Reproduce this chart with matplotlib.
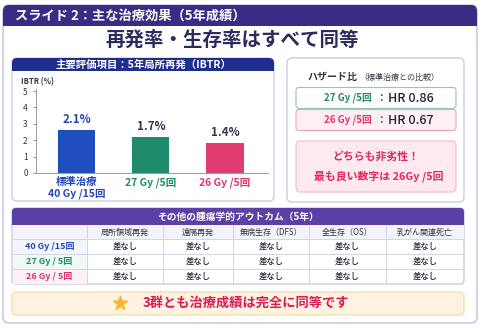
import matplotlib
matplotlib.use('Agg')
import matplotlib.pyplot as plt
from matplotlib.patches import FancyBboxPatch, Rectangle

plt.rcParams['font.family'] = ['Noto Sans CJK JP', 'DejaVu Sans']

# Chart data
arms = ['標準治療\n40 Gy /15回', '27 Gy /5回', '26 Gy /5回']
ibtr_bars = [2.6, 2.2, 1.85]          # bar heights as drawn
ibtr_labels = ['2.1%', '1.7%', '1.4%']
y_ticks = [0, 1, 2, 3, 4, 5]
hr_arms = ['27 Gy /5回', '26 Gy /5回']
hr_values = ['HR 0.86', 'HR 0.67']
outcomes = ['局所領域再発', '遠隔再発', '無病生存（DFS）', '全生存（OS）', '乳がん関連死亡']
row_arms = ['40 Gy /15回', '27 Gy / 5回', '26 Gy / 5回']
results = [
    ['差なし', '差なし', '差なし', '差なし', '差なし'],
    ['差なし', '差なし', '差なし', '差なし', '差なし'],
    ['差なし', '差なし', '差なし', '差なし', '差なし'],
]

# Colours
BLUE = '#2447b5'
GREEN = '#1d8a68'
PINK = '#e0336d'
NAVY = '#2b2b5e'
arm_colors = [BLUE, GREEN, PINK]
bar_colors = ['#1f4fbe', '#1f8a6c', '#e03d70']
value_colors = ['#2a45a8', '#33334a', '#33334a']
row_tints = ['#f4f6fd', '#f1f9f5', '#fdf1f5']

fig = plt.figure(figsize=(4.84, 3.29), dpi=100)
fig.patch.set_facecolor('white')

# Pixel-space canvas for the slide furniture
bg = fig.add_axes([0, 0, 1, 1])
bg.set_xlim(0, 484)
bg.set_ylim(329, 0)
bg.axis('off')


def rbox(x, y, w, h, fc, ec='none', lw=0.8, r=4, z=1):
    bg.add_patch(FancyBboxPatch((x, y), w, h,
                                boxstyle='round,pad=0,rounding_size=%g' % r,
                                fc=fc, ec=ec, lw=lw, zorder=z))


def header(x, y, w, h, fc, r=4, z=2):
    # rounded top corners only
    rbox(x, y, w, h, fc, r=r, z=z)
    bg.add_patch(Rectangle((x, y + h / 2), w, h / 2, fc=fc, ec='none', zorder=z))


# Outer frame and top bar
rbox(3, 5, 474, 318, 'white', ec='#c3bfe0', lw=1.0, r=6)
header(3, 5, 474, 21, '#3a2c85', r=6)
bg.text(15, 15.5, 'スライド 2：主な治療効果（5年成績）', color='white',
        fontsize=9.5, fontweight='bold', va='center', ha='left', zorder=5)
bg.text(232, 40, '再発率・生存率はすべて同等', color=NAVY,
        fontsize=14, fontweight='bold', va='center', ha='center', zorder=5)

# Left panel (IBTR bar chart)
rbox(12, 58, 262, 143, 'white', ec='#c6c9e6', lw=0.9, r=5)
header(12, 58, 262, 13, '#1f2e8c', r=5)
bg.text(143, 64.5, '主要評価項目：5年局所再発（IBTR）', color='white',
        fontsize=7.5, fontweight='bold', va='center', ha='center', zorder=5)
bg.text(21, 82, 'IBTR (%)', color='#333344', fontsize=5.5,
        fontweight='bold', va='center', ha='left', zorder=5)

ax = fig.add_axes([36 / 484, (329 - 173) / 329, 232 / 484, 83.6 / 329])
ax.patch.set_alpha(0)
x = range(len(arms))
bars = ax.bar(x, ibtr_bars, width=0.5, color=bar_colors, zorder=3)
ax.set_xlim(-0.55, 2.58)
ax.set_ylim(0, 5.1)
ax.set_yticks(y_ticks)
ax.tick_params(axis='y', labelsize=6, length=2, width=0.6, pad=4,
               colors='#888888', labelcolor='#333333')
ax.set_xticks(list(x))
ax.set_xticklabels(arms, fontsize=7.5, fontweight='bold', linespacing=1.2)
ax.tick_params(axis='x', length=0, pad=3)
for lbl, c in zip(ax.get_xticklabels(), arm_colors):
    lbl.set_color(c)
for s in ['top', 'right']:
    ax.spines[s].set_visible(False)
for s in ['left', 'bottom']:
    ax.spines[s].set_color('#9a9aa8')
    ax.spines[s].set_linewidth(0.7)
texts = ax.bar_label(bars, labels=ibtr_labels, padding=3, fontsize=8.3,
                     fontweight='bold')
for t, c in zip(texts, value_colors):
    t.set_color(c)

# Right panel (hazard ratios)
rbox(287, 58, 177, 144, 'white', ec='#c9c6dc', lw=0.9, r=5)
bg.text(358, 77, 'ハザード比', color='#333344', fontsize=7.2,
        fontweight='bold', va='center', ha='right', zorder=5)
bg.text(359, 77, '（標準治療との比較）', color='#333344', fontsize=5.8,
        va='center', ha='left', zorder=5)
hr_edges = ['#8fc9b6', '#f0a0b8']
hr_fills = ['white', '#fdf0f4']
for i, (arm, hr) in enumerate(zip(hr_arms, hr_values)):
    y0 = 87.5 + i * 22
    rbox(296, y0, 160, 21, hr_fills[i], ec=hr_edges[i], lw=0.8, r=3)
    yc = y0 + 10.5
    bg.text(372, yc, arm, color=arm_colors[i + 1], fontsize=7,
            fontweight='bold', va='center', ha='right', zorder=5)
    bg.text(381, yc, '：', color='#333344', fontsize=7, fontweight='bold',
            va='center', ha='center', zorder=5)
    bg.text(388, yc, hr, color='#222233', fontsize=9, fontweight='medium',
            va='center', ha='left', zorder=5)
rbox(296, 141, 160, 51, '#fde9ef', ec='#f6b9ca', lw=0.8, r=4)
bg.text(376, 157, 'どちらも非劣性！', color='#e0285e', fontsize=7.8,
        fontweight='bold', va='center', ha='center', zorder=5)
bg.text(379, 176, '最も良い数字は 26Gy /5回', color='#e0285e', fontsize=7.8,
        fontweight='bold', va='center', ha='center', zorder=5)

# Table of other outcomes
cols = [12, 87, 163, 233, 309, 386, 464]
row_y = [225, 239, 254, 269, 284]
rbox(12, 208, 452, 76, 'white', ec='#c6c3de', lw=0.9, r=4)
header(12, 208, 452, 17, '#5b40a6', r=4)
bg.text(238, 216.5, 'その他の腫瘍学的アウトカム（5年）', color='white',
        fontsize=7, fontweight='bold', va='center', ha='center', zorder=5)
bg.add_patch(Rectangle((12.5, 225), 451, 14, fc='#f3f3f8', ec='none', zorder=2))
for i in range(len(row_arms)):
    bg.add_patch(Rectangle((12.5, row_y[i + 1]), cols[1] - 12.5, 15,
                           fc=row_tints[i], ec='none', zorder=2))
for xc in cols[1:-1]:
    bg.plot([xc, xc], [225, 284], color='#d6d4e4', lw=0.7, zorder=3)
for yr in row_y[1:-1]:
    bg.plot([12.5, 463.5], [yr, yr], color='#d6d4e4', lw=0.7, zorder=3)
for j, name in enumerate(outcomes):
    bg.text((cols[j + 1] + cols[j + 2]) / 2, 232, name, color='#333344',
            fontsize=5.8, va='center', ha='center', zorder=5)
for i, arm in enumerate(row_arms):
    yc = (row_y[i + 1] + row_y[i + 2]) / 2
    bg.text((cols[0] + cols[1]) / 2, yc, arm, color=arm_colors[i],
            fontsize=6.5, fontweight='bold', va='center', ha='center', zorder=5)
    for j, val in enumerate(results[i]):
        bg.text((cols[j + 1] + cols[j + 2]) / 2, yc, val, color='#222233',
                fontsize=6, fontweight='medium', va='center', ha='center', zorder=5)

# Bottom banner
rbox(12, 292, 452, 23, '#fdf3de', ec='#f5d9a2', lw=0.8, r=4)
bg.scatter([120], [303], marker='*', s=110, color='#f6b82a', zorder=5)
bg.text(143, 303, '3群とも治療成績は完全に同等です', color='#d81b5a',
        fontsize=9.5, fontweight='bold', va='center', ha='left', zorder=5)

fig.savefig('out.png', dpi=100)
